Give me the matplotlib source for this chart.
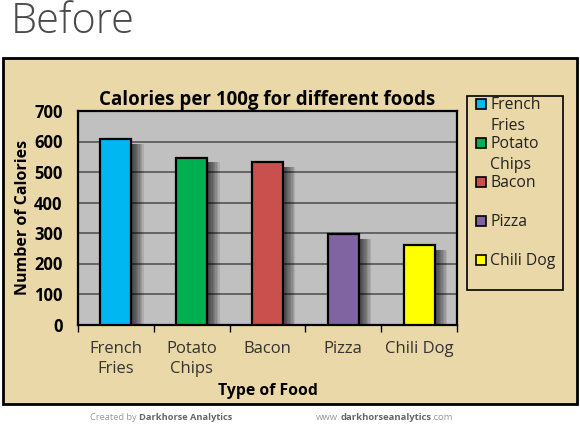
import matplotlib.pyplot as plt
from matplotlib.patches import Rectangle

# Данные графика
foods = ["French\nFries", "Potato\nChips", "Bacon", "Pizza", "Chili Dog"]
calories = [607, 547, 533, 296, 260]
colors = ["#00B7F1", "#00B050", "#C9504D", "#8064A2", "#FFFF00"]
yticks = [0, 100, 200, 300, 400, 500, 600, 700]

PARCHMENT = "#EBD8A8"
W, H = 580, 426


def fx(px):
    return px / W


def fy(py):
    return 1 - py / H


# Функция, печатающая подряд несколько кусков текста разного стиля.
def chain_text(fig, x0, y0, parts):
    renderer = fig.canvas.get_renderer()
    x = x0
    for s, weight, color, size in parts:
        t = fig.text(fx(x), fy(y0), s, family="Open Sans", weight=weight,
                     fontsize=size, color=color, va="center", ha="left")
        x += t.get_window_extent(renderer).width


fig = plt.figure(figsize=(5.8, 4.26), dpi=100)
fig.patch.set_facecolor("white")

# Заголовок "Before"
fig.text(fx(11), fy(22), "Before", family="Open Sans", weight="light",
         fontsize=30, color="#4a4a4a", va="center", ha="left")

# Рамка области диаграммы
fig.patches.append(Rectangle((fx(3), fy(404)), fx(574), 346 / H,
                             transform=fig.transFigure, facecolor=PARCHMENT,
                             edgecolor="black", linewidth=2, zorder=-5))

ax = fig.add_axes([fx(78), fy(324.5), fx(379), 213.5 / H])
ax.set_zorder(2)
ax.set_facecolor("#C0C0C0")
x = list(range(len(foods)))
bw = 0.41

# тень справа от столбцов
for k in range(1, 10):
    ax.bar([i + 0.018 * k for i in x], [c - 15 for c in calories], width=bw,
           color="black", alpha=0.1, linewidth=0, zorder=2)
ax.bar(x, calories, width=bw, color=colors, edgecolor="black",
       linewidth=1.6, zorder=3)

ax.set_xlim(-0.5, len(foods) - 0.5)
ax.set_ylim(0, 700)
ax.set_yticks(yticks)
ax.set_yticklabels([str(t) for t in yticks], family="Open Sans",
                   weight="bold", fontsize=12)
ax.yaxis.grid(True, color="#555555", linewidth=1.2, zorder=1)
ax.set_axisbelow(True)
ax.tick_params(axis="y", length=0, pad=11)

ax.set_xticks([i - 0.5 for i in range(len(foods) + 1)], minor=True)
ax.set_xticks(x)
ax.set_xticklabels(foods, family="Open Sans", fontsize=12, linespacing=1.35,
                   color="#333333")
ax.tick_params(axis="x", which="major", length=0, pad=12)
ax.tick_params(axis="x", which="minor", length=5, width=1, direction="out")

for s in ax.spines.values():
    s.set_linewidth(1.6)
    s.set_color("black")

ax.set_title("Calories per 100g for different foods", family="Open Sans",
             weight="bold", fontsize=13.5, pad=4)
ax.set_ylabel("Number of Calories", family="Open Sans", weight="bold",
              fontsize=11.5, labelpad=2)
ax.set_xlabel("Type of Food", family="Open Sans", weight="bold",
              fontsize=11.3, labelpad=4)

# Легенда
fig.patches.append(Rectangle((fx(467), fy(290)), fx(96), 194 / H,
                             transform=fig.transFigure, facecolor="none",
                             edgecolor="black", linewidth=1.2, zorder=3))
for i, (name, col) in enumerate(zip(foods, colors)):
    yc = 104 + 39 * i
    fig.patches.append(Rectangle((fx(476), fy(yc + 5)), fx(10), 10 / H,
                                 transform=fig.transFigure, facecolor=col,
                                 edgecolor="black", linewidth=1.2, zorder=4))
    fig.text(fx(490), fy(yc - 7), name, family="Open Sans", fontsize=11.3,
             va="top", ha="left", linespacing=1.45, color="#222222")

# Подпись снизу
chain_text(fig, 90, 417, [("Created by ", "normal", "#999999", 6.7),
                          ("Darkhorse Analytics", "bold", "#666666", 6.7)])
chain_text(fig, 316, 417, [("www.", "normal", "#999999", 6.8),
                           ("darkhorseanalytics", "bold", "#666666", 6.8),
                           (".com", "normal", "#999999", 6.8)])

fig.savefig("out.png", dpi=100, facecolor=fig.get_facecolor())
